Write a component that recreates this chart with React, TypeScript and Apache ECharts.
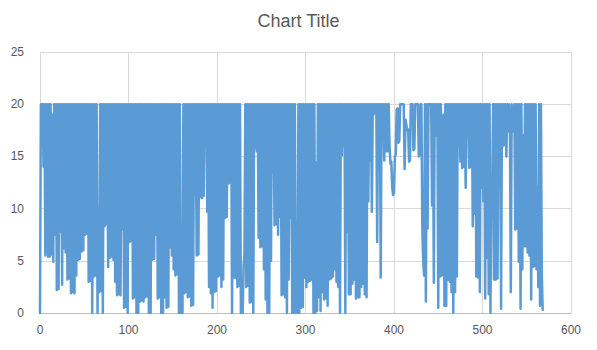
import React, { useEffect, useRef } from "react";
import * as echarts from "echarts";

// Series values, one per x step (x = 0, 1, 2, ...)
const values: number[] = [
  0, 20, 20, 20, 14, 20, 5.5, 20, 20, 5.4,
  20, 5.4, 20, 5.6, 19, 4.9, 20, 7.5, 20, 2.2,
  20, 2.3, 20, 7.8, 20, 2.7, 20, 6.2, 20, 5.8,
  20, 3.2, 20, 3.3, 20, 1.9, 20, 2.0, 20, 1.9,
  20, 3.6, 20, 5.1, 20, 5.2, 20, 5.9, 20, 6.0,
  20, 7.5, 20, 7.6, 20, 3.0, 20, 3.1, 20, 0,
  20, 3.5, 20, 3.6, 20, 0, 10, 2.0, 20, 2.1,
  20, 0, 20, 8.3, 20, 8.5, 20, 4.4, 20, 5.3,
  20, 5.4, 20, 5.1, 20, 3.0, 20, 1.7, 20, 1.8,
  20, 1.7, 20, 8.0, 20, 0.5, 20, 0.6, 20, 0,
  20, 6.8, 20, 6.9, 20, 1.4, 20, 1.5, 20, 0,
  20, 0, 20, 1.1, 20, 1.2, 20, 1.1, 20, 1.5,
  20, 1.6, 20, 0, 20, 0, 20, 5.1, 20, 5.2,
  20, 7.5, 20, 1.4, 20, 1.5, 20, 0, 20, 0,
  20, 1.5, 20, 0.5, 20, 0.6, 20, 6.3, 20, 5.5,
  20, 4.2, 20, 3.6, 20, 3.7, 20, 0, 20, 0,
  0.4, 0, 20, 1.9, 20, 2.0, 20, 1.5, 20, 1.6,
  20, 0.7, 20, 0.8, 20, 11.3, 20, 5.5, 20, 5.6,
  20, 11.1, 20, 11.0, 20, 11.2, 20, 16.1, 20, 9.7,
  20, 2.5, 20, 1.9, 20, 0.5, 20, 2.0, 20, 2.1,
  20, 3.5, 20, 3.6, 20, 2.5, 20, 3.2, 20, 9.1,
  20, 9.2, 20, 12.4, 20, 12.5, 20, 0, 20, 3.4,
  20, 3.4, 20, 2.5, 20, 2.6, 20, 0, 1.0, 0,
  4.5, 5.6, 20, 2.5, 20, 2.6, 20, 1.0, 20, 1.1,
  20, 0, 20, 15.8, 20, 15.5, 20, 7.2, 20, 6.3,
  20, 6.4, 20, 4.2, 20, 1.3, 20, 0, 20, 0,
  20, 5.0, 20, 13.5, 20, 8.4, 20, 8.5, 20, 7.5,
  20, 9.2, 20, 1.7, 20, 1.8, 20, 1.5, 20, 0,
  20, 3.2, 20, 9.1, 20, 0, 20, 0, 20, 0,
  0.2, 0, 20, 0, 20, 0.5, 20, 0.6, 20, 3.4,
  20, 2.5, 20, 3.0, 20, 3.1, 20, 3.2, 20, 0,
  20, 0, 14.4, 0.2, 20, 1.5, 20, 0.2, 20, 2.0,
  20, 1.3, 20, 1.4, 20, 0.7, 20, 3.2, 20, 3.3,
  20, 3.5, 20, 4.2, 20, 3.0, 20, 2.5, 20, 0,
  20, 15.1, 20, 16, 20, 0, 20, 7.8, 20, 1.8,
  20, 1.8, 20, 2.8, 20, 3.2, 20, 1.4, 20, 1.5,
  20, 1.5, 20, 2.5, 20, 2.8, 20, 1.8, 20, 1.5,
  20, 10.7, 20, 14.6, 20, 9.7, 20, 19, 20, 19.2,
  20, 6.8, 20, 19.5, 20, 3.4, 20, 18, 20, 14.6,
  20, 15.5, 20, 15.5, 20, 16, 14.3, 14.5, 12, 11.3,
  11.5, 15, 15.2, 19.5, 19.6, 16.3, 16.5, 20, 20, 20,
  20, 20, 13.8, 18.5, 18, 17.5, 17.6, 14.5, 14.6, 20,
  20, 20, 15.6, 15.7, 20, 20, 20, 20, 15, 15.2,
  20, 20, 8, 5, 3.6, 20, 1.1, 20, 8.1, 20,
  20, 20, 20, 10.3, 20, 2.9, 20, 17, 20, 20,
  0.5, 20, 3.5, 20, 3.6, 16.8, 19, 0.7, 20, 0.7,
  20, 3.2, 20, 3.0, 20, 2.0, 20, 0, 20, 2.0,
  20, 3.5, 20, 16, 20, 14.5, 20, 13.9, 20, 14,
  20, 12, 20, 17, 20, 13.9, 20, 14, 20, 8.3,
  20, 9.5, 20, 3.5, 20, 3.4, 20, 2.0, 20, 12,
  20, 10.7, 20, 1.4, 20, 5.3, 20, 1.8, 20, 0,
  11.5, 11.6, 20, 3.2, 20, 3.2, 20, 3.3, 20, 13.1,
  20, 0.4, 20, 16, 20, 16.1, 20, 15, 20, 17.4,
  20, 17.5, 2.0, 20, 17.4, 17.4, 20, 8, 20, 8.1,
  20, 4.9, 20, 0.4, 20, 4.2, 17, 6.4, 20, 6.4,
  20, 5.8, 20, 5.5, 20, 1.3, 20, 4.4, 20, 4.5,
  20, 4.2, 12, 2.5, 20, 0.7, 20, 3.8, 0.3,
];

const xTicks = { min: 0, max: 600, interval: 100 };
const yTicks = { min: 0, max: 25, interval: 5 };
const title = "Chart Title";

export default function App() {
  const ref = useRef<HTMLDivElement>(null);
  useEffect(() => {
    if (!ref.current) return;
    const chart = echarts.init(ref.current, undefined, { renderer: "svg" });
    const font = "'Liberation Sans', Arial, sans-serif";
    chart.setOption({
      animation: false,
      backgroundColor: "#ffffff",
      title: {
        text: title,
        left: "center",
        top: 7,
        textStyle: { fontFamily: font, fontSize: 18, fontWeight: "normal", color: "#595959" },
      },
      grid: { left: 40, right: 26, top: 52, bottom: 37, containLabel: false },
      xAxis: {
        type: "value",
        min: xTicks.min,
        max: xTicks.max,
        interval: xTicks.interval,
        axisLine: { show: true, lineStyle: { color: "#bfbfbf", width: 1 } },
        axisTick: { show: false },
        axisLabel: { fontFamily: font, fontSize: 12, color: "#595959", margin: 11 },
        splitLine: { show: true, lineStyle: { color: "#d9d9d9", width: 1 } },
      },
      yAxis: {
        type: "value",
        min: yTicks.min,
        max: yTicks.max,
        interval: yTicks.interval,
        axisLine: { show: false },
        axisTick: { show: false },
        axisLabel: { fontFamily: font, fontSize: 12, color: "#595959", margin: 16 },
        splitLine: { show: true, lineStyle: { color: "#d9d9d9", width: 1 } },
      },
      series: [
        {
          type: "line",
          data: values.map((v, i) => [i, v]),
          showSymbol: false,
          symbol: "none",
          lineStyle: { color: "#5b9bd5", width: 2.5, join: "round", cap: "round" },
        },
      ],
    });
    return () => chart.dispose();
  }, []);
  return (
    <div
      ref={ref}
      style={{ position: "fixed", left: 0, top: 0, width: 597, height: 350, background: "#fff" }}
    />
  );
}
